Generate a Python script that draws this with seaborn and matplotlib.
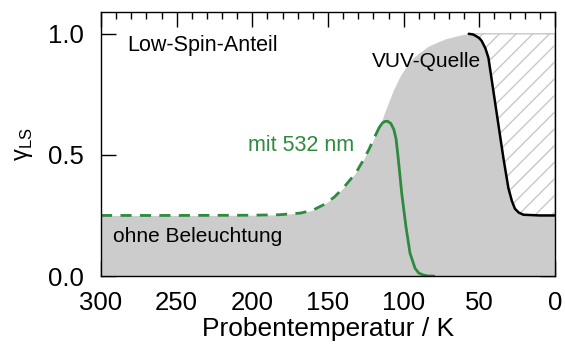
import numpy as np
import seaborn as sns
import matplotlib.pyplot as plt
from matplotlib.ticker import MultipleLocator

# Low-spin fraction vs. temperature
# gray region: thermal curve without illumination
dark_T = [300, 250, 200, 182, 168, 160, 153, 146, 140, 135, 131, 127, 123, 119.5,
          116, 112, 107, 102, 98, 94, 89, 84, 78, 72, 65, 60, 57]
dark_y = [0.25, 0.25, 0.251, 0.253, 0.26, 0.272, 0.294, 0.325, 0.363, 0.40, 0.432, 0.475,
          0.522, 0.57, 0.615, 0.685, 0.765, 0.83, 0.867, 0.90, 0.925, 0.948, 0.965,
          0.98, 0.991, 0.998, 1.0]
# green: with 532 nm illumination (solid part after the dashed thermal branch)
green_T = [116, 114, 112.5, 110.7, 108.5, 106.5, 105, 103.5, 101.3, 98.5, 95.8, 92.5,
           90, 87, 84, 80]
green_y = [0.615, 0.632, 0.638, 0.639, 0.63, 0.605, 0.565, 0.48, 0.342, 0.204, 0.094,
           0.032, 0.012, 0.004, 0.0, 0.0]
# black: VUV source
vuv_T = [57, 54, 52, 50, 48.4, 46, 44, 40.7, 37.4, 34.1, 30.8, 28.5, 26.5, 24, 20.9, 10, 0]
vuv_y = [1.0, 0.997, 0.99, 0.982, 0.97, 0.94, 0.901, 0.763, 0.625, 0.487, 0.363, 0.31,
         0.278, 0.262, 0.253, 0.25, 0.25]

sns.set_theme(style='ticks')
plt.rcParams['font.family'] = ['Liberation Sans', 'DejaVu Sans']
plt.rcParams['mathtext.fontset'] = 'custom'
plt.rcParams['mathtext.rm'] = 'Liberation Sans'
plt.rcParams['hatch.linewidth'] = 1.0
for key in ['text.color', 'axes.labelcolor', 'xtick.color', 'ytick.color', 'axes.edgecolor']:
    plt.rcParams[key] = 'black'

green = '#2e8a3e'
gray_fill = '#cccccc'

fig = plt.figure(figsize=(5.65, 3.5), dpi=100)
ax = fig.add_axes([0.1788, 0.2114, 0.8035, 0.7543])

all_T = np.array(dark_T + vuv_T[1:])
all_y = np.array(dark_y + vuv_y[1:])
ax.fill_between(all_T, 0, all_y, color=gray_fill, linewidth=0, zorder=1)
ax.fill_between(vuv_T, vuv_y, 1.0, facecolor='white', edgecolor='#c8c8c8',
                hatch='//', linewidth=1.0, zorder=1)

dash_T = [t for t in dark_T if t >= 116]
dash_y = dark_y[:len(dash_T)]
sns.lineplot(x=dash_T, y=dash_y, ax=ax, color=green, linewidth=2.0,
             linestyle=(0, (4, 3)), sort=False, zorder=3)
sns.lineplot(x=green_T, y=green_y, ax=ax, color=green, linewidth=2.0, sort=False, zorder=3)
sns.lineplot(x=vuv_T, y=vuv_y, ax=ax, color='black', linewidth=1.8, sort=False, zorder=3)

ax.text(282.8, 0.952, 'Low-Spin-Anteil', fontsize=15.5, va='center', ha='left')
ax.text(202.8, 0.538, 'mit 532 nm', fontsize=15.5, color=green, va='center', ha='left')
ax.text(292, 0.164, 'ohne Beleuchtung', fontsize=15, va='center', ha='left')
ax.text(121, 0.886, 'VUV-Quelle', fontsize=15, va='center', ha='left')

ax.set_xlim(300, 0)
ax.set_ylim(0, 1.09)
ax.xaxis.set_major_locator(MultipleLocator(50))
ax.xaxis.set_minor_locator(MultipleLocator(10))
ax.set_yticks([0.0, 0.5, 1.0])
ax.tick_params(which='both', direction='in', top=True, right=True, width=1.0, color='black')
ax.tick_params(which='major', length=10.5, labelsize=18.5)
ax.tick_params(which='minor', length=5)
ax.tick_params(axis='x', pad=11)
ax.tick_params(axis='y', pad=12)
for s in ax.spines.values():
    s.set_linewidth(1.0)
    s.set_color('black')
    s.set_zorder(4)

ax.set_xlabel('Probentemperatur / K', fontsize=19, labelpad=1.5)
ax.set_ylabel('γ$_{\\mathrm{LS}}$', fontsize=17, labelpad=10)

fig.savefig('out.png', dpi=100)
